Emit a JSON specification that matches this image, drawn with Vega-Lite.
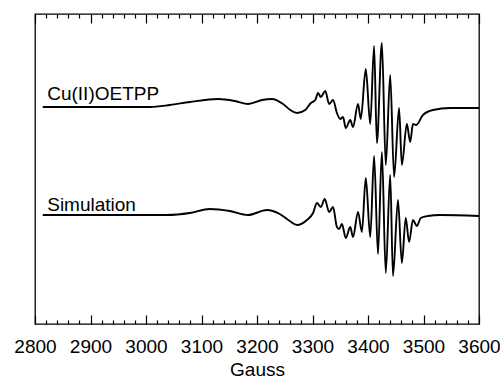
{
  "$schema": "https://vega.github.io/schema/vega-lite/v6.json",
  "autosize": "none",
  "width": 444,
  "height": 310,
  "padding": {"left": 35, "top": 14, "right": 21, "bottom": 54},
  "background": "white",
  "config": {
    "view": {"stroke": "#000", "strokeWidth": 1.3},
    "font": "Liberation Sans",
    "axis": {"domain": false, "grid": false, "tickColor": "#000", "tickWidth": 1.2}
  },
  "datasets": {
    "spectra": [
      {"G": 2814, "I": 217, "s": "exp"},
      {"G": 3007, "I": 217, "s": "exp"},
      {"G": 3043, "I": 219, "s": "exp"},
      {"G": 3079, "I": 222, "s": "exp"},
      {"G": 3130, "I": 225, "s": "exp"},
      {"G": 3160, "I": 223, "s": "exp"},
      {"G": 3184, "I": 220, "s": "exp"},
      {"G": 3209, "I": 224, "s": "exp"},
      {"G": 3227, "I": 225, "s": "exp"},
      {"G": 3247, "I": 220, "s": "exp"},
      {"G": 3260, "I": 214, "s": "exp"},
      {"G": 3272, "I": 211, "s": "exp"},
      {"G": 3287, "I": 214, "s": "exp"},
      {"G": 3297, "I": 221, "s": "exp"},
      {"G": 3305, "I": 224, "s": "exp"},
      {"G": 3310, "I": 231, "s": "exp"},
      {"G": 3315, "I": 227, "s": "exp"},
      {"G": 3323, "I": 233, "s": "exp"},
      {"G": 3330, "I": 220, "s": "exp"},
      {"G": 3337, "I": 224, "s": "exp"},
      {"G": 3344, "I": 211, "s": "exp"},
      {"G": 3350, "I": 205, "s": "exp"},
      {"G": 3355, "I": 207, "s": "exp"},
      {"G": 3360, "I": 196, "s": "exp"},
      {"G": 3368, "I": 204, "s": "exp"},
      {"G": 3373, "I": 197, "s": "exp"},
      {"G": 3382, "I": 220, "s": "exp"},
      {"G": 3387, "I": 205, "s": "exp"},
      {"G": 3396, "I": 255, "s": "exp"},
      {"G": 3404, "I": 200, "s": "exp"},
      {"G": 3411, "I": 278, "s": "exp"},
      {"G": 3416, "I": 181, "s": "exp"},
      {"G": 3425, "I": 281, "s": "exp"},
      {"G": 3432, "I": 159, "s": "exp"},
      {"G": 3440, "I": 249, "s": "exp"},
      {"G": 3447, "I": 147, "s": "exp"},
      {"G": 3456, "I": 216, "s": "exp"},
      {"G": 3461, "I": 159, "s": "exp"},
      {"G": 3470, "I": 200, "s": "exp"},
      {"G": 3476, "I": 182, "s": "exp"},
      {"G": 3481, "I": 200, "s": "exp"},
      {"G": 3487, "I": 199, "s": "exp"},
      {"G": 3499, "I": 209, "s": "exp"},
      {"G": 3517, "I": 214, "s": "exp"},
      {"G": 3548, "I": 216, "s": "exp"},
      {"G": 3600, "I": 216, "s": "exp"},
      {"G": 2814, "I": 109, "s": "sim"},
      {"G": 3038, "I": 109, "s": "sim"},
      {"G": 3079, "I": 111, "s": "sim"},
      {"G": 3115, "I": 115, "s": "sim"},
      {"G": 3151, "I": 113, "s": "sim"},
      {"G": 3184, "I": 109, "s": "sim"},
      {"G": 3218, "I": 114, "s": "sim"},
      {"G": 3241, "I": 110, "s": "sim"},
      {"G": 3259, "I": 103, "s": "sim"},
      {"G": 3272, "I": 99, "s": "sim"},
      {"G": 3290, "I": 104, "s": "sim"},
      {"G": 3301, "I": 111, "s": "sim"},
      {"G": 3308, "I": 121, "s": "sim"},
      {"G": 3315, "I": 117, "s": "sim"},
      {"G": 3322, "I": 125, "s": "sim"},
      {"G": 3330, "I": 112, "s": "sim"},
      {"G": 3337, "I": 117, "s": "sim"},
      {"G": 3344, "I": 97, "s": "sim"},
      {"G": 3348, "I": 95, "s": "sim"},
      {"G": 3353, "I": 100, "s": "sim"},
      {"G": 3360, "I": 86, "s": "sim"},
      {"G": 3368, "I": 97, "s": "sim"},
      {"G": 3373, "I": 87, "s": "sim"},
      {"G": 3382, "I": 112, "s": "sim"},
      {"G": 3389, "I": 92, "s": "sim"},
      {"G": 3396, "I": 146, "s": "sim"},
      {"G": 3404, "I": 87, "s": "sim"},
      {"G": 3411, "I": 168, "s": "sim"},
      {"G": 3418, "I": 70, "s": "sim"},
      {"G": 3425, "I": 172, "s": "sim"},
      {"G": 3432, "I": 51, "s": "sim"},
      {"G": 3440, "I": 149, "s": "sim"},
      {"G": 3445, "I": 48, "s": "sim"},
      {"G": 3454, "I": 124, "s": "sim"},
      {"G": 3461, "I": 61, "s": "sim"},
      {"G": 3468, "I": 106, "s": "sim"},
      {"G": 3474, "I": 82, "s": "sim"},
      {"G": 3481, "I": 104, "s": "sim"},
      {"G": 3488, "I": 98, "s": "sim"},
      {"G": 3495, "I": 106, "s": "sim"},
      {"G": 3508, "I": 108, "s": "sim"},
      {"G": 3530, "I": 109, "s": "sim"},
      {"G": 3600, "I": 108, "s": "sim"}
    ],
    "labels": [
      {"G": 2822, "I": 224, "text": "Cu(II)OETPP"},
      {"G": 2822, "I": 113, "text": "Simulation"}
    ]
  },
  "resolve": {"axis": {"x": "independent"}},
  "layer": [
    {
      "data": {"name": "spectra"},
      "mark": {"type": "line", "interpolate": "monotone", "color": "#000", "strokeWidth": 1.9},
      "encoding": {
        "x": {
          "field": "G", "type": "quantitative",
          "scale": {"domain": [2800, 3600], "nice": false, "zero": false},
          "axis": {
            "orient": "bottom",
            "offset": -9,
            "tickSize": 9,
            "title": "Gauss",
            "titleFontSize": 19, "titleFontWeight": "normal", "titleColor": "#000",
            "titleBaseline": "alphabetic", "titleY": 60,
            "values": [2800,2900,3000,3100,3200,3300,3400,3500,3600],
            "format": "d",
            "labelFontSize": 19, "labelColor": "#000", "labelPadding": 13,
            "labelFlush": false, "labelOverlap": false
          }
        },
        "y": {
          "field": "I", "type": "quantitative",
          "scale": {"domain": [0, 310], "nice": false, "zero": false},
          "axis": null
        },
        "detail": {"field": "s"}
      }
    },
    {
      "data": {"name": "labels"},
      "mark": {"type": "text", "align": "left", "baseline": "alphabetic", "fontSize": 19, "color": "#000", "font": "Liberation Sans"},
      "encoding": {
        "x": {
          "field": "G", "type": "quantitative",
          "scale": {"domain": [2800, 3600], "nice": false, "zero": false},
          "axis": {
            "orient": "top",
            "offset": -9,
            "tickSize": 9,
            "title": null,
            "values": [2800,2900,3000,3100,3200,3300,3400,3500,3600],
            "labels": false
          }
        },
        "y": {"field": "I", "type": "quantitative", "scale": {"domain": [0, 310], "nice": false, "zero": false}, "axis": null},
        "text": {"field": "text"}
      }
    },
    {
      "data": {"name": "labels"},
      "mark": {"type": "point", "opacity": 0},
      "encoding": {
        "x": {
          "field": "G", "type": "quantitative",
          "scale": {"domain": [2800, 3600], "nice": false, "zero": false},
          "axis": {
            "orient": "bottom",
            "offset": -4,
            "tickSize": 4,
            "title": null,
            "values": [2820,2840,2860,2880,2920,2940,2960,2980,3020,3040,3060,3080,3120,3140,3160,3180,3220,3240,3260,3280,3320,3340,3360,3380,3420,3440,3460,3480,3520,3540,3560,3580],
            "labels": false
          }
        },
        "y": {"field": "I", "type": "quantitative", "scale": {"domain": [0, 310], "nice": false, "zero": false}, "axis": null}
      }
    },
    {
      "data": {"name": "labels"},
      "mark": {"type": "point", "opacity": 0},
      "encoding": {
        "x": {
          "field": "G", "type": "quantitative",
          "scale": {"domain": [2800, 3600], "nice": false, "zero": false},
          "axis": {
            "orient": "top",
            "offset": -4,
            "tickSize": 4,
            "title": null,
            "values": [2820,2840,2860,2880,2920,2940,2960,2980,3020,3040,3060,3080,3120,3140,3160,3180,3220,3240,3260,3280,3320,3340,3360,3380,3420,3440,3460,3480,3520,3540,3560,3580],
            "labels": false
          }
        },
        "y": {"field": "I", "type": "quantitative", "scale": {"domain": [0, 310], "nice": false, "zero": false}, "axis": null}
      }
    }
  ]
}
